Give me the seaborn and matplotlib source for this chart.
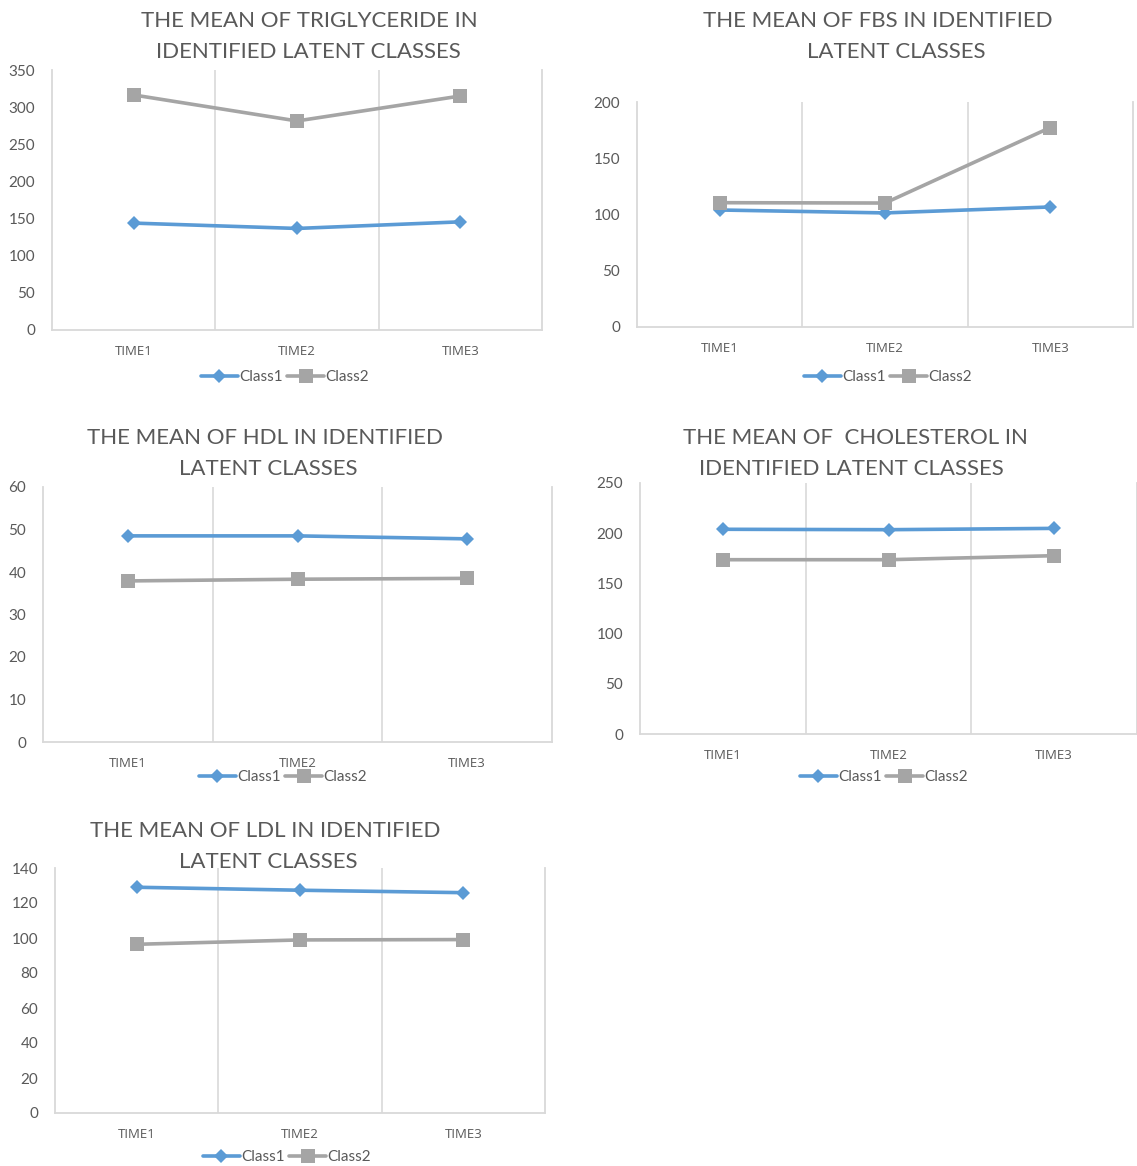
import matplotlib
matplotlib.use("Agg")
import matplotlib.pyplot as plt
import seaborn as sns
import pandas as pd

# ---- data ----
times = ["TIME1", "TIME2", "TIME3"]
classes = ["Class1", "Class2"]

tg_class1 = [143.9, 136.7, 145.6]
tg_class2 = [316.4, 281.4, 315.0]

fbs_class1 = [104.0, 101.4, 106.7]
fbs_class2 = [110.5, 110.2, 177.3]

hdl_class1 = [48.5, 48.5, 47.8]
hdl_class2 = [37.9, 38.3, 38.5]

chol_class1 = [203.9, 203.5, 204.8]
chol_class2 = [173.6, 173.6, 177.6]

ldl_class1 = [129.0, 127.3, 125.9]
ldl_class2 = [96.4, 98.9, 99.1]

titles = [
    ("THE MEAN OF TRIGLYCERIDE IN", "IDENTIFIED LATENT CLASSES"),
    ("THE MEAN OF FBS IN IDENTIFIED", "LATENT CLASSES"),
    ("THE MEAN OF HDL IN IDENTIFIED", "LATENT CLASSES"),
    ("THE MEAN OF  CHOLESTEROL IN", "IDENTIFIED LATENT CLASSES"),
    ("THE MEAN OF LDL IN IDENTIFIED", "LATENT CLASSES"),
]
series = [
    (tg_class1, tg_class2),
    (fbs_class1, fbs_class2),
    (hdl_class1, hdl_class2),
    (chol_class1, chol_class2),
    (ldl_class1, ldl_class2),
]
y_ticks = [
    [0, 50, 100, 150, 200, 250, 300, 350],
    [0, 50, 100, 150, 200],
    [0, 10, 20, 30, 40, 50, 60],
    [0, 50, 100, 150, 200, 250],
    [0, 20, 40, 60, 80, 100, 120, 140],
]

# ---- layout (pixel boxes: left, top, right, bottom) ----
W, H = 1137, 1166
plot_boxes = [
    (52, 70, 542, 330),
    (637, 102, 1133, 327),
    (43, 487, 552, 742),
    (640, 483, 1137, 734),
    (55, 868, 545, 1113),
]
title_pos = [
    ((309, 21), (308, 52)),
    ((878, 21), (896, 52)),
    ((265, 438), (268, 469)),
    ((855, 438), (851, 469)),
    ((265, 831), (268, 862)),
]
legend_pos = [(285, 377), (888, 377), (283, 777), (884, 777), (287, 1157)]

BLUE = "#5B9BD5"
GRAY = "#A5A5A5"
TEXT = "#595959"
GRID = "#D9D9D9"

sns.set_theme(style="white")
plt.rcParams["font.family"] = ["Lato", "DejaVu Sans"]

fig = plt.figure(figsize=(W / 100, H / 100), dpi=100)
fig.patch.set_facecolor("white")

for i, box in enumerate(plot_boxes):
    x0, y0, x1, y1 = box
    ax = fig.add_axes([x0 / W, 1 - y1 / H, (x1 - x0) / W, (y1 - y0) / H])
    c1, c2 = series[i]
    df = pd.DataFrame({
        "Time": times * 2,
        "Value": list(c1) + list(c2),
        "Class": [classes[0]] * 3 + [classes[1]] * 3,
    })
    sns.lineplot(
        data=df, x="Time", y="Value", hue="Class", style="Class",
        palette={"Class1": BLUE, "Class2": GRAY},
        markers={"Class1": "D", "Class2": "s"},
        dashes=False, linewidth=2.6, markersize=9,
        markeredgewidth=0, sort=False, ax=ax, legend=True,
    )
    # square markers a bit larger than the diamonds
    for line in ax.get_lines():
        if line.get_marker() == "s":
            line.set_markersize(10)
        elif line.get_marker() == "D":
            line.set_markersize(7.5)

    ax.set_xlim(-0.5, 2.5)
    ticks = y_ticks[i]
    ax.set_ylim(ticks[0], ticks[-1])
    ax.set_yticks(ticks)
    ax.set_xlabel("")
    ax.set_ylabel("")
    for xs in (0.5, 1.5):
        ax.axvline(xs, color=GRID, lw=1.2, zorder=0)
    for side in ("left", "bottom", "right"):
        ax.spines[side].set_visible(True)
        ax.spines[side].set_color(GRID)
        ax.spines[side].set_linewidth(1.3)
    ax.spines["top"].set_visible(False)
    ax.tick_params(axis="y", length=0, pad=12, labelsize=11, labelcolor=TEXT)
    ax.tick_params(axis="x", length=0, pad=11, labelsize=9.5, labelcolor=TEXT)
    for lab in ax.get_xticklabels():
        lab.set_fontfamily(["Open Sans", "DejaVu Sans"])
    ax.grid(False)

    # legend below each panel
    handles, labels = ax.get_legend_handles_labels()
    ax.get_legend().remove()
    lx, ly = legend_pos[i]
    fig.legend(
        handles, labels, loc="center", bbox_to_anchor=(lx / W, 1 - ly / H),
        ncol=2, frameon=False, fontsize=11, labelcolor=TEXT,
        handlelength=2.4, handletextpad=0.1, columnspacing=0.3,
    )

    (tx1, ty1), (tx2, ty2) = title_pos[i]
    fig.text(tx1 / W, 1 - ty1 / H, titles[i][0], ha="center", va="center",
             fontsize=16, color=TEXT)
    fig.text(tx2 / W, 1 - ty2 / H, titles[i][1], ha="center", va="center",
             fontsize=16, color=TEXT)

fig.savefig("out.png", dpi=100, facecolor="white")
